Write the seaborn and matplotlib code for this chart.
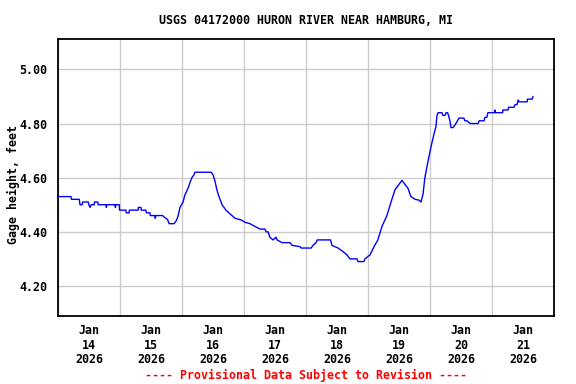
import matplotlib
matplotlib.use("Agg")
import matplotlib.pyplot as plt
import seaborn as sns
import pandas as pd

# Hours since Jan 14 2026 00:00 and gage height (feet)
hours = [0.0, 4.9, 5.1, 8.1, 8.4, 9.2, 9.4, 11.6, 11.8, 12.3, 12.7, 13.9, 14.0, 15.3, 15.4,
         18.5, 18.6, 18.8, 21.9, 22.1, 22.3, 23.6, 23.7, 26.2, 26.3, 27.4, 27.5, 30.9, 31.0,
         32.0, 32.1, 33.9, 34.1, 35.5, 35.6, 37.4, 37.5, 37.8, 40.4, 40.9, 42.3, 42.9, 44.8,
         45.6, 46.3, 47.1, 48.3, 49.0, 50.2, 50.9, 51.7, 52.5, 52.9, 59.2, 59.9, 60.7, 61.4,
         62.2, 63.4, 64.9, 66.5, 68.4, 70.7, 72.3, 74.2, 76.1, 78.1, 80.0, 80.4, 81.2, 81.9,
         83.1, 84.3, 84.7, 86.6, 89.7, 90.5, 93.6, 94.0, 97.9, 98.6, 99.8, 100.2, 105.4, 105.9,
         108.3, 109.8, 111.7, 112.9, 115.6, 116.0, 118.3, 118.7, 120.7, 122.2, 123.7, 125.3,
         127.2, 128.8, 130.3, 131.5, 133.0, 134.2, 135.4, 136.5, 138.1, 139.6, 140.4, 141.2,
         141.9, 143.1, 144.3, 145.4, 146.2, 146.6, 147.0, 148.5, 148.9, 149.7, 150.1, 150.7,
         151.2, 151.6, 152.0, 152.8, 153.6, 154.3, 155.1, 157.0, 157.4, 158.2, 159.4, 162.5,
         162.9, 164.8, 165.2, 165.9, 166.3, 168.9, 169.0, 169.2, 172.0, 172.1, 174.1, 174.3,
         176.4, 176.8, 177.6, 178.0, 178.4, 181.5, 181.6, 183.4, 183.8]
gage = [4.53, 4.53, 4.52, 4.52, 4.50, 4.50, 4.51, 4.51, 4.50, 4.49, 4.50, 4.50, 4.51, 4.51, 4.50,
        4.50, 4.49, 4.50, 4.50, 4.49, 4.50, 4.50, 4.48, 4.48, 4.47, 4.47, 4.48, 4.48, 4.49,
        4.49, 4.48, 4.48, 4.47, 4.47, 4.46, 4.46, 4.45, 4.46, 4.46, 4.455, 4.445, 4.43, 4.43,
        4.44, 4.456, 4.49, 4.51, 4.536, 4.56, 4.58, 4.60, 4.61, 4.62, 4.62, 4.61, 4.585, 4.555,
        4.53, 4.50, 4.48, 4.466, 4.45, 4.444, 4.435, 4.43, 4.42, 4.41, 4.41, 4.40, 4.40, 4.38,
        4.37, 4.38, 4.37, 4.36, 4.36, 4.35, 4.345, 4.34, 4.34, 4.35, 4.36, 4.37, 4.37, 4.35,
        4.34, 4.33, 4.315, 4.30, 4.30, 4.29, 4.29, 4.30, 4.315, 4.345, 4.37, 4.42,
        4.46, 4.51, 4.555, 4.57, 4.59, 4.575, 4.56, 4.53, 4.52, 4.517, 4.51, 4.54,
        4.60, 4.66, 4.715, 4.76, 4.79, 4.83, 4.84, 4.84, 4.83, 4.83, 4.84, 4.84,
        4.825, 4.81, 4.785, 4.785, 4.795, 4.807, 4.82, 4.82, 4.81, 4.81, 4.80, 4.80,
        4.81, 4.81, 4.823, 4.823, 4.84, 4.84, 4.85, 4.84, 4.84, 4.85, 4.85, 4.86,
        4.86, 4.87, 4.87, 4.887, 4.88, 4.88, 4.89, 4.89, 4.90]

day_labels = ["Jan\n14\n2026", "Jan\n15\n2026", "Jan\n16\n2026", "Jan\n17\n2026",
              "Jan\n18\n2026", "Jan\n19\n2026", "Jan\n20\n2026", "Jan\n21\n2026"]
y_ticks = [4.20, 4.40, 4.60, 4.80, 5.00]

title = "USGS 04172000 HURON RIVER NEAR HAMBURG, MI"
ylabel = "Gage height, feet"
footer = "---- Provisional Data Subject to Revision ----"

sns.set_style("white")
plt.rcParams["font.family"] = ["DejaVu Sans Mono"]
plt.rcParams["font.weight"] = "bold"
plt.rcParams["text.color"] = "black"
plt.rcParams["xtick.color"] = "black"
plt.rcParams["ytick.color"] = "black"
plt.rcParams["axes.labelcolor"] = "black"

df = pd.DataFrame({"hours": hours, "gage": gage})

fig = plt.figure(figsize=(5.76, 3.84), dpi=100)
ax = fig.add_axes([58.3 / 576, 1 - 316 / 384, 496 / 576, (316 - 39.3) / 384])

sns.lineplot(data=df, x="hours", y="gage", ax=ax, color="#0000ff", linewidth=1.0, zorder=3)

ax.set_xlim(0, 192)
ax.set_ylim(4.089, 5.111)

ax.set_xticks([24 * i for i in range(9)])
ax.set_xticklabels([])
ax.set_xticks([12 + 24 * i for i in range(len(day_labels))], minor=True)
ax.set_xticklabels(day_labels, minor=True, fontsize=8.4, fontweight="bold", linespacing=1.15,
                   color="black")
ax.set_yticks(y_ticks)
ax.set_yticklabels([f"{v:.2f}" for v in y_ticks], fontsize=8.4, fontweight="bold", color="black")
ax.tick_params(axis="both", which="both", length=0)
ax.tick_params(axis="x", which="minor", pad=6)
ax.tick_params(axis="y", pad=8)

ax.grid(True, which="major", color="#cccccc", linewidth=1.0)
ax.set_axisbelow(True)
for s in ax.spines.values():
    s.set_color("black")
    s.set_linewidth(1.3)

ax.set_xlabel("")
ax.set_ylabel("")
cx = (58.3 + 554.3) / 2 / 576
fig.text(13 / 576, 1 - 184 / 384, ylabel, ha="center", va="center", rotation=90,
         fontsize=8.4, fontweight="bold", color="black")
fig.text(cx, 1 - 20 / 384, title, ha="center", va="center", fontsize=8.4, fontweight="bold",
         color="black")
fig.text(cx, 1 - 375 / 384, footer, ha="center", va="center", fontsize=8.4,
         fontweight="bold", color="red")

fig.savefig("out.png", dpi=100)
